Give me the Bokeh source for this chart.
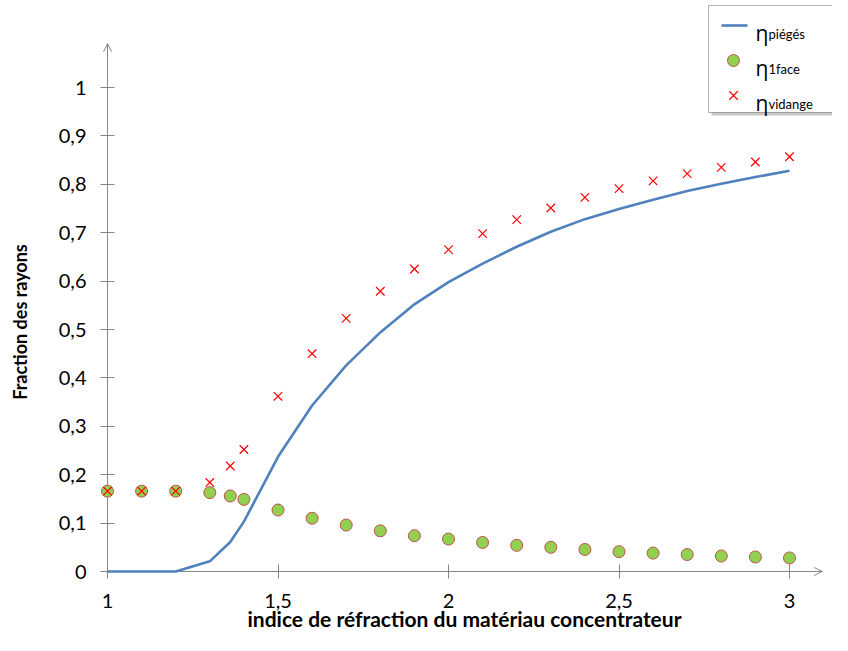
import math
from bokeh.plotting import figure
from bokeh.models import (Range1d, FixedTicker, CustomJSTickFormatter, Arrow,
                          OpenHead, BoxAnnotation, Label)
from bokeh.embed import file_html
from bokeh.resources import INLINE

# ---------------- data ----------------
indice = [1.0, 1.1, 1.2, 1.3, 1.36, 1.4, 1.5, 1.6, 1.7, 1.8, 1.9, 2.0,
          2.1, 2.2, 2.3, 2.4, 2.5, 2.6, 2.7, 2.8, 2.9, 3.0]
eta_pieges = [0.0, 0.0, 0.0, 0.021, 0.061, 0.103, 0.237, 0.343, 0.426, 0.494,
              0.552, 0.598, 0.636, 0.671, 0.702, 0.728, 0.749, 0.768, 0.786,
              0.801, 0.815, 0.828]
eta_1face = [0.166, 0.166, 0.166, 0.163, 0.156, 0.149, 0.127, 0.110, 0.096,
             0.084, 0.074, 0.067, 0.060, 0.054, 0.050, 0.0455, 0.041, 0.038,
             0.035, 0.032, 0.030, 0.028]
eta_vidange = [0.166, 0.166, 0.166, 0.184, 0.218, 0.252, 0.362, 0.450, 0.523,
               0.579, 0.625, 0.665, 0.698, 0.727, 0.751, 0.773, 0.791, 0.807,
               0.822, 0.835, 0.846, 0.857]
x_ticks = [1.0, 1.5, 2.0, 2.5, 3.0]
y_ticks = [0.0, 0.1, 0.2, 0.3, 0.4, 0.5, 0.6, 0.7, 0.8, 0.9, 1.0]
legend_subs = ["piégés", "1face", "vidange"]
x_title = "indice de réfraction du matériau concentrateur"
y_title = "Fraction des rayons"

# ---------------- geometry ----------------
W, H = 832, 635
AX_X, AX_Y = 107, 571         # canvas px of x=1 and y=0
PX_X, PX_Y = 341.0, 484.0     # px per data unit
x_start = 1 - AX_X / PX_X
x_end = x_start + W / PX_X
y_end = AX_Y / PX_Y
y_start = y_end - H / PX_Y


def dx(px):
    return x_start + px / PX_X


def dy(py):
    return y_end - py / PX_Y


GRAY = "#868686"
FONT = "Lato"

p = figure(width=W, height=H, output_backend="svg", toolbar_location=None,
           x_range=Range1d(x_start, x_end), y_range=Range1d(y_start, y_end),
           min_border=0, outline_line_color=None)
p.xgrid.visible = False
p.ygrid.visible = False

fmt = CustomJSTickFormatter(
    code="var v = Math.round(tick*10)/10; return String(v).replace('.', ',');")

x_arrow_end = dx(821.7)
y_arrow_end = dy(43.3)

for ax, ticks in ((p.xaxis[0], x_ticks), (p.yaxis[0], y_ticks)):
    ax.ticker = FixedTicker(ticks=ticks)
    ax.formatter = fmt
    ax.axis_line_color = GRAY
    ax.major_tick_line_color = GRAY
    ax.minor_tick_line_color = None
    ax.major_tick_in = 7
    ax.major_tick_out = 7
    ax.major_label_text_font = FONT
    ax.major_label_text_font_size = "20px"
    ax.major_label_text_color = "#000000"

p.xaxis.fixed_location = 0
p.yaxis.fixed_location = 1
p.xaxis.bounds = (1, x_arrow_end)
p.yaxis.bounds = (0, y_arrow_end)
p.xaxis.major_label_standoff = 15
p.yaxis.major_label_standoff = 14

p.add_layout(Arrow(end=OpenHead(size=8, line_color=GRAY, line_width=1),
                   x_start=1, y_start=1.0, x_end=1, y_end=y_arrow_end,
                   line_color=GRAY, line_width=1))
p.add_layout(Arrow(end=OpenHead(size=8, line_color=GRAY, line_width=1),
                   x_start=3.0, y_start=0, x_end=x_arrow_end, y_end=0,
                   line_color=GRAY, line_width=1))

# axis titles
p.add_layout(Label(x=dx(464), y=dy(618), text=x_title, text_font=FONT,
                   text_font_style="bold", text_font_size="21px",
                   text_align="center", text_baseline="middle", text_color="#000000"))
p.add_layout(Label(x=dx(19), y=dy(321.5), text=y_title, text_font=FONT,
                   text_font_style="bold", text_font_size="18px", angle=math.pi / 2,
                   text_align="center", text_baseline="middle", text_color="#000000"))

# ---------------- series ----------------
p.line(indice, eta_pieges, line_color="#4F81BD", line_width=2.6, level="overlay")
p.scatter(indice, eta_1face, marker="circle", size=12, level="overlay",
          fill_color="#92D050", line_color="#C0504D", line_width=1)
p.scatter(indice, eta_vidange, marker="x", size=12, level="overlay",
          line_color="#FF0000", line_width=1.2)

# ---------------- legend (drawn by hand for the subscripts) ----------------
p.add_layout(BoxAnnotation(left=dx(711), right=dx(860), top=dy(8), bottom=dy(115),
                           fill_color="#000000", fill_alpha=0.22, line_color=None))
p.add_layout(BoxAnnotation(left=dx(708), right=dx(855), top=dy(5), bottom=dy(112),
                           fill_color="#FFFFFF", fill_alpha=1.0,
                           line_color="#000000", line_width=1))

rows = [25, 60, 95]
p.line([dx(721), dx(747)], [dy(rows[0])] * 2, line_color="#4F81BD",
       line_width=2.6, level="overlay")
p.scatter([dx(733)], [dy(rows[1])], marker="circle", size=12, level="overlay",
          fill_color="#92D050", line_color="#C0504D", line_width=1)
p.scatter([dx(733)], [dy(rows[2])], marker="x", size=12, level="overlay",
          line_color="#FF0000", line_width=1.2)
for r, sub in zip(rows, legend_subs):
    p.add_layout(Label(x=dx(755), y=dy(r + 7), text="η", text_font="Open Sans",
                       text_font_size="21px", text_baseline="alphabetic",
                       text_color="#000000"))
    p.add_layout(Label(x=dx(768), y=dy(r + 8.5), text=sub, text_font=FONT,
                       text_font_size="13px", text_baseline="alphabetic",
                       text_color="#000000"))

open("out.html", "w").write(file_html(p, INLINE))
